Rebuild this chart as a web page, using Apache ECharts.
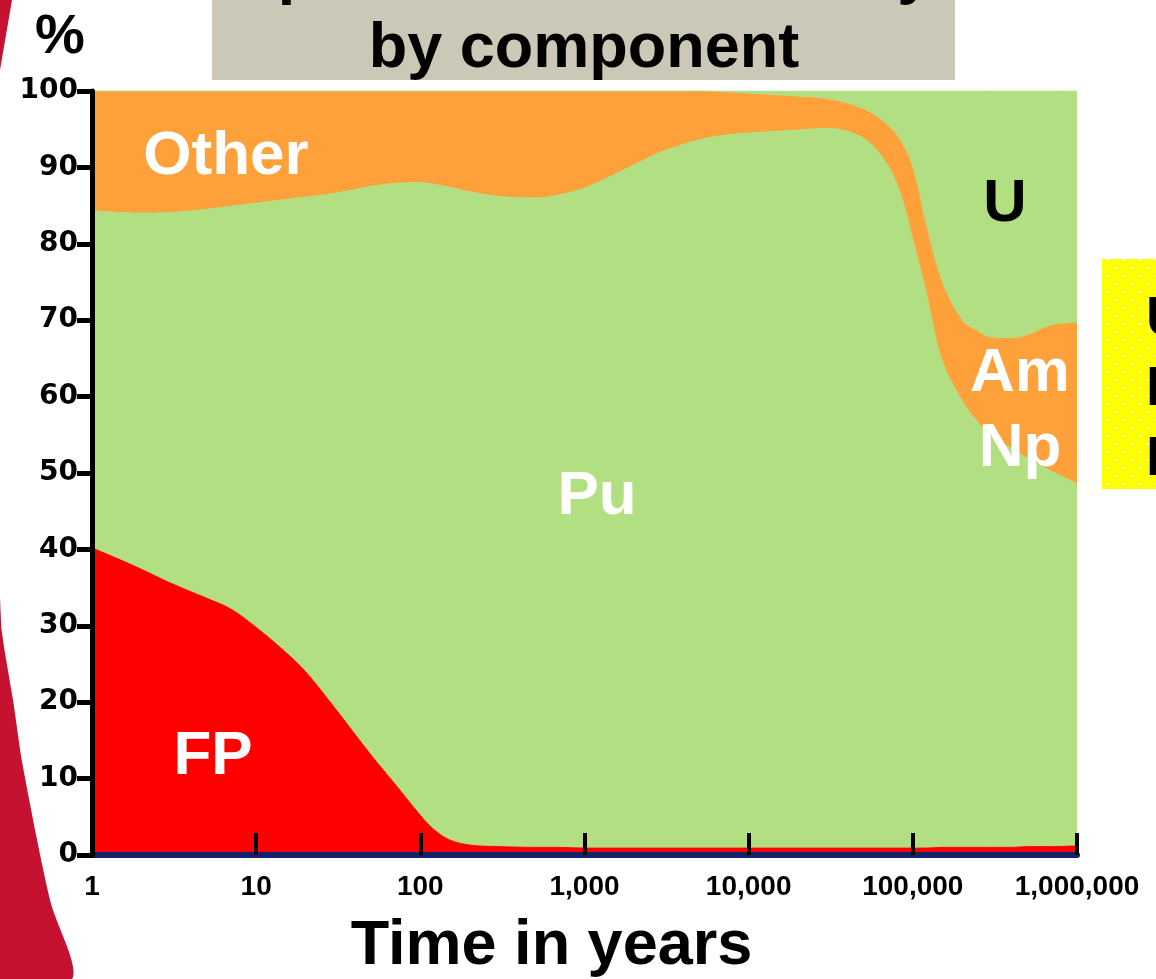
<!DOCTYPE html>
<html>
<head>
<meta charset="utf-8">
<script src="https://cdn.jsdelivr.net/npm/echarts@6/dist/echarts.min.js"></script>
<style>
  html, body { margin: 0; padding: 0; background: #fff; }
  #chart { width: 1156px; height: 979px; }
</style>
</head>
<body>
<div id="chart"></div>
<script>
// time in years (log axis)
const years = [1, 1.5, 2, 3, 5, 7, 10, 15, 20, 30,
  50, 70, 100, 120, 150, 200, 300, 500, 700, 1000,
  1500, 2000, 3000, 5000, 7000, 10000, 20000, 30000, 50000, 70000,
  85000, 100000, 120000, 150000, 200000, 250000, 300000, 400000, 500000, 700000,
  1000000];

// share of each component, %
const fp = [40.2, 38.6, 37.4, 35.6, 33.6, 32.2, 29.8, 26.6, 24.0, 19.3,
  13.1, 9.3, 5.2, 3.4, 2.0, 1.3, 1.1, 1.0, 1.0, 0.9,
  0.9, 0.9, 0.9, 0.9, 0.9, 0.9, 0.9, 0.9, 0.9, 0.9,
  0.9, 0.9, 0.9, 1.0, 1.0, 1.0, 1.0, 1.0, 1.1, 1.1,
  1.2];
const pu = [44.1, 45.5, 46.6, 48.5, 50.9, 52.7, 55.5, 59.2, 62.1, 67.3,
  74.4, 78.6, 82.8, 84.4, 85.4, 85.5, 85.1, 85.0, 85.4, 86.4,
  88.1, 89.4, 91.2, 92.7, 93.3, 93.6, 94.0, 94.2, 92.9, 89.4,
  85.3, 79.6, 72.9, 63.8, 58.4, 55.6, 53.8, 52.2, 50.8, 49.1,
  47.4];
const other = [15.7, 15.9, 16.0, 15.9, 15.5, 15.1, 14.7, 14.2, 13.9, 13.4,
  12.5, 12.1, 12.0, 12.2, 12.6, 13.2, 13.8, 14.0, 13.6, 12.7,
  11.0, 9.7, 7.9, 6.4, 5.6, 5.1, 4.3, 3.8, 3.8, 5.2,
  7.1, 9.2, 8.6, 10.2, 10.5, 11.9, 12.9, 14.4, 16.1, 19.1,
  21.0];
const u = [0, 0, 0, 0, 0, 0, 0, 0, 0, 0,
  0, 0, 0, 0, 0, 0, 0, 0, 0, 0,
  0, 0, 0, 0, 0.2, 0.4, 0.8, 1.1, 2.4, 4.5,
  6.7, 10.3, 17.6, 25.0, 30.1, 31.5, 32.3, 32.4, 32.0, 30.7,
  30.4];

const xTickLabels = ['1', '10', '100', '1,000', '10,000', '100,000', '1,000,000'];
const yTicks = [0, 10, 20, 30, 40, 50, 60, 70, 80, 90, 100];

const GREEN = '#b1df82';
const ORANGE = '#fea13a';
const RED = '#fe0000';

// value first so that the stack is done on the y dimension
const rows = (vals) => years.map((t, i) => [vals[i], t]);

function areaSeries(name, vals, color) {
  return {
    name: name,
    type: 'line',
    stack: 'total',
    data: rows(vals),
    encode: { x: 1, y: 0 },
    symbol: 'none',
    smooth: 0.35,
    lineStyle: { width: 1, color: color },
    areaStyle: { color: color, opacity: 1 },
    silent: true
  };
}

// dotted fill for the yellow box on the right
const dots = document.createElement('canvas');
dots.width = 16; dots.height = 16;
const dctx = dots.getContext('2d');
dctx.fillStyle = '#ffff00';
dctx.fillRect(0, 0, 16, 16);
dctx.fillStyle = '#ffffff';
dctx.fillRect(3, 3, 2, 2);
dctx.fillRect(11, 11, 2, 2);

const labelShadow = {
  fill: '#fff',
  font: 'bold 62px "Liberation Sans", Arial, sans-serif',
  textAlign: 'center',
  textVerticalAlign: 'middle',
  textShadowColor: '#a8a8a8',
  textShadowOffsetX: 3,
  textShadowOffsetY: 3,
  textShadowBlur: 0
};

const chart = echarts.init(document.getElementById('chart'));
chart.setOption({
  backgroundColor: '#ffffff',
  animation: false,
  grid: { left: 92, right: 79, top: 91, bottom: 124, outerBoundsMode: 'none', containLabel: false },
  xAxis: {
    type: 'log',
    logBase: 10,
    min: 1,
    max: 1000000,
    z: 5,
    name: 'Time in years',
    nameLocation: 'middle',
    nameGap: 60,
    nameTextStyle: {
      color: '#000', fontSize: 63, fontWeight: 'bold',
      fontFamily: '"Liberation Sans", Arial, sans-serif',
      padding: [0, 66, 0, 0]
    },
    axisLine: { show: true, lineStyle: { color: '#13236b', width: 6 } },
    axisTick: { show: true, inside: true, length: 22, lineStyle: { color: '#000', width: 4 } },
    axisLabel: {
      margin: 18,
      color: '#000',
      fontSize: 28,
      fontWeight: 'bold',
      fontFamily: '"Liberation Sans", Arial, sans-serif',
      formatter: (v) => xTickLabels[Math.round(Math.log10(v))]
    },
    splitLine: { show: false },
    minorTick: { show: false }
  },
  yAxis: {
    type: 'value',
    min: yTicks[0],
    max: yTicks[yTicks.length - 1],
    interval: 10,
    z: 6,
    axisLine: { show: true, lineStyle: { color: '#000', width: 5 } },
    axisTick: { show: true, length: 15, lineStyle: { color: '#000', width: 5 } },
    axisLabel: {
      margin: 14,
      color: '#000',
      fontSize: 28,
      fontWeight: 'bold',
      fontFamily: '"DejaVu Sans", sans-serif'
    },
    splitLine: { show: false }
  },
  series: [
    areaSeries('FP', fp, RED),
    areaSeries('Pu', pu, GREEN),
    areaSeries('Other', other, ORANGE),
    areaSeries('U', u, GREEN)
  ],
  graphic: [
    // slide decoration on the left
    { type: 'polygon', z: -10, shape: { points: [[0, 0], [12, 0], [0, 70]] }, style: { fill: '#c41230' } },
    { type: 'polygon', z: -10, shape: { smooth: 0.3, points: [[0, 600], [2, 633], [13, 700], [23, 767], [50, 900], [72, 979], [0, 979]] }, style: { fill: '#c41230' } },
    // title box
    { type: 'rect', z: -5, shape: { x: 212, y: 0, width: 743, height: 80 }, style: { fill: '#cbc8b7' } },
    { type: 'text', x: 584, y: -25, style: { text: 'Spent fuel radiotoxicity', fill: '#000', font: 'bold 63px "Liberation Sans", Arial, sans-serif', textAlign: 'center', textVerticalAlign: 'middle' } },
    { type: 'text', x: 584, y: 50, style: { text: 'by component', fill: '#000', font: 'bold 63px "Liberation Sans", Arial, sans-serif', textAlign: 'center', textVerticalAlign: 'middle' } },
    // y axis unit
    { type: 'text', x: 60, y: 38, style: { text: '%', fill: '#000', font: 'bold 56px "Liberation Sans", Arial, sans-serif', textAlign: 'center', textVerticalAlign: 'middle' } },
    // labels in the areas
    { type: 'text', z: 10, x: 226, y: 157, style: Object.assign({ text: 'Other' }, labelShadow) },
    { type: 'text', z: 10, x: 597, y: 497, style: Object.assign({ text: 'Pu' }, labelShadow) },
    { type: 'text', z: 10, x: 213, y: 757, style: Object.assign({ text: 'FP' }, labelShadow) },
    { type: 'text', z: 10, x: 1020, y: 374, style: Object.assign({ text: 'Am' }, labelShadow) },
    { type: 'text', z: 10, x: 1020, y: 449, style: Object.assign({ text: 'Np' }, labelShadow) },
    { type: 'text', z: 10, x: 1005, y: 204, style: { text: 'U', fill: '#000', font: 'bold 60px "Liberation Sans", Arial, sans-serif', textAlign: 'center', textVerticalAlign: 'middle' } },
    // yellow box on the right, mostly cut off
    { type: 'rect', shape: { x: 1102, y: 259, width: 60, height: 230 }, style: { fill: { image: dots, repeat: 'repeat' } } },
    { type: 'text', x: 1146, y: 320, style: { text: 'U', fill: '#000', font: 'bold 56px "Liberation Sans", Arial, sans-serif', textAlign: 'left', textVerticalAlign: 'middle' } },
    { type: 'text', x: 1146, y: 390, style: { text: 'Pu', fill: '#000', font: 'bold 56px "Liberation Sans", Arial, sans-serif', textAlign: 'left', textVerticalAlign: 'middle' } },
    { type: 'text', x: 1146, y: 460, style: { text: 'MA', fill: '#000', font: 'bold 56px "Liberation Sans", Arial, sans-serif', textAlign: 'left', textVerticalAlign: 'middle' } }
  ]
});
</script>
</body>
</html>
